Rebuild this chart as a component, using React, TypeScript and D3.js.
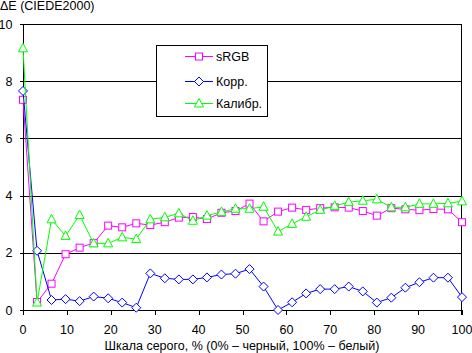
import React from 'react'
import * as d3 from 'd3'

// gray level, % (32 steps)
const grayLevels = [0, 3.2, 6.5, 9.7, 12.9, 16.1, 19.4, 22.6, 25.8, 29.0, 32.3, 35.5, 38.7, 41.9, 45.2, 48.4,
  51.6, 54.8, 58.1, 61.3, 64.5, 67.7, 71.0, 74.2, 77.4, 80.6, 83.9, 87.1, 90.3, 93.5, 96.8, 100]

const srgbValues = [7.35, 0.28, 0.92, 1.95, 2.18, 2.34, 2.95, 2.89, 3.03, 2.97, 3.07, 3.23, 3.25, 3.18, 3.40, 3.46,
  3.72, 3.10, 3.44, 3.58, 3.50, 3.56, 3.59, 3.58, 3.46, 3.30, 3.56, 3.52, 3.49, 3.53, 3.52, 3.07]

const korrValues = [7.66, 2.07, 0.35, 0.38, 0.31, 0.47, 0.41, 0.26, 0.08, 1.28, 1.11, 1.07, 1.07, 1.14, 1.24, 1.27,
  1.43, 0.82, 0.0, 0.27, 0.58, 0.73, 0.73, 0.82, 0.65, 0.26, 0.43, 0.78, 0.97, 1.13, 1.13, 0.45]

const kalibrValues = [9.15, 0.26, 3.17, 2.59, 3.32, 2.33, 2.33, 2.54, 2.48, 3.17, 3.24, 3.38, 3.12, 3.30, 3.43, 3.54,
  3.54, 3.61, 2.74, 3.01, 3.26, 3.50, 3.64, 3.77, 3.82, 3.87, 3.59, 3.59, 3.71, 3.71, 3.73, 3.80]

const xTicks = [0, 10, 20, 30, 40, 50, 60, 70, 80, 90, 100]
const yTicks = [0, 2, 4, 6, 8, 10]

const seriesNames = ['sRGB', 'Корр.', 'Калибр.']
const seriesColors = ['#ff00ff', '#0000ff', '#00ff00']
const seriesShapes = ['square', 'diamond', 'triangle']

const W = 472
const H = 353
const FONT = 'Liberation Sans, Arial, sans-serif'

const x = d3.scaleLinear().domain([0, 100]).range([23, 462])
const y = d3.scaleLinear().domain([0, 10]).range([310, 24])
const px = (v: number) => Math.round(v) + 0.5

const Marker = ({ shape, cx, cy, color }: { shape: string; cx: number; cy: number; color: string }) => {
  if (shape === 'square') {
    return <rect x={cx - 3.5} y={cy - 3.5} width={7} height={7} fill="white" stroke={color} strokeWidth={1} />
  }
  if (shape === 'diamond') {
    return <path d={`M${cx},${cy - 4.5}L${cx + 4.5},${cy}L${cx},${cy + 4.5}L${cx - 4.5},${cy}Z`} fill="white" stroke={color} strokeWidth={1} />
  }
  return <path d={`M${cx},${cy - 5}L${cx + 4.5},${cy + 3.5}L${cx - 4.5},${cy + 3.5}Z`} fill="white" stroke={color} strokeWidth={1} />
}

export default function App() {
  const allSeries = [srgbValues, korrValues, kalibrValues]
  const line = d3.line<number>()
    .x((d, i) => x(grayLevels[i]))
    .y(d => y(d))

  const legendRows = [56.5, 81.5, 103.5]

  return (
    <svg width={W} height={H} style={{ position: 'absolute', left: 0, top: 0, background: 'white' }} fontFamily={FONT}>
      <rect width={W} height={H} fill="white" />

      {/* grid lines */}
      {yTicks.filter(t => t > 0).map(t => (
        <line key={t} x1={20} x2={x(100)} y1={px(y(t))} y2={px(y(t))} stroke="black" strokeWidth={1} />
      ))}
      {/* axes and frame */}
      <line x1={20} x2={x(100)} y1={px(y(0))} y2={px(y(0))} stroke="black" />
      <line x1={px(x(0))} x2={px(x(0))} y1={px(y(10))} y2={y(0) + 5} stroke="black" />
      <line x1={px(x(100)) - 1} x2={px(x(100)) - 1} y1={px(y(10))} y2={y(0) + 5} stroke="black" />
      {xTicks.map(t => (
        <line key={t} x1={px(x(t))} x2={px(x(t))} y1={y(0)} y2={y(0) + 5} stroke="black" />
      ))}

      {/* tick labels */}
      {yTicks.map(t => (
        <text key={t} x={12.5} y={y(t) + 4.5} textAnchor="end" fontSize={12.5}>{t}</text>
      ))}
      {xTicks.map(t => (
        <text key={t} x={x(t)} y={333.5} textAnchor="middle" fontSize={12.5}>{t}</text>
      ))}

      <text x={0} y={10} fontSize={12.5}>ΔE (CIEDE2000)</text>
      <text x={242} y={350} textAnchor="middle" fontSize={12.5}>Шкала серого, % (0% – черный, 100% – белый)</text>

      {/* series */}
      {allSeries.map((vals, s) => (
        <g key={s}>
          <path d={line(vals) || ''} fill="none" stroke={seriesColors[s]} strokeWidth={1} />
          {vals.map((v, i) => (
            <Marker key={i} shape={seriesShapes[s]} cx={x(grayLevels[i])} cy={y(v)} color={seriesColors[s]} />
          ))}
        </g>
      ))}

      {/* legend */}
      <rect x={156.5} y={45.5} width={111} height={71} fill="white" stroke="black" strokeWidth={1} />
      {seriesNames.map((name, s) => (
        <g key={name}>
          <line x1={185} x2={213} y1={legendRows[s]} y2={legendRows[s]} stroke={seriesColors[s]} />
          <Marker shape={seriesShapes[s]} cx={199} cy={legendRows[s]} color={seriesColors[s]} />
          <text x={216} y={legendRows[s] + 4.5} fontSize={12.5}>{name}</text>
        </g>
      ))}
    </svg>
  )
}
